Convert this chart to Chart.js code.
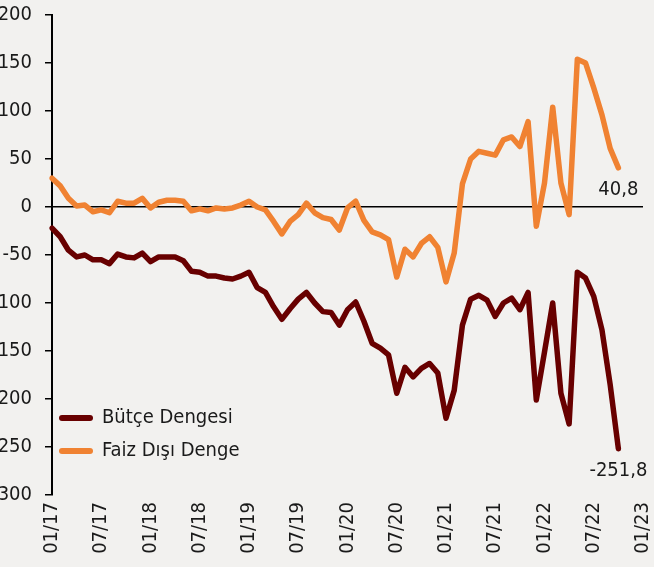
<!DOCTYPE html>
<html>
<head>
<meta charset="utf-8">
<script src="https://cdn.jsdelivr.net/npm/chart.js@4"></script>
<style>
  body { margin: 0; background: #f2f1ef; }
  canvas { display: block; background: #f2f1ef; }
</style>
</head>
<body>
<canvas id="dengeChart" width="654" height="567"></canvas>
<script>
let ctx = document.getElementById('dengeChart');

// monthly labels 01/17 .. 01/23, only every 6th one is shown
let months = [];
for (let y = 17; y <= 23; y++) {
    for (let m = 1; m <= 12; m++) {
        if (y === 23 && m > 1) break;
        months.push(String(m).padStart(2, '0') + '/' + y);
    }
}
let tickLabels = ['01/17', '07/17', '01/18', '07/18', '01/19', '07/19', '01/20',
    '07/20', '01/21', '07/21', '01/22', '07/22', '01/23'];
let yTicks = [200, 150, 100, 50, 0, -50, -100, -150, -200, -250, -300];

let butceDengesi = [-22, -31, -45, -52, -50, -55, -55, -59, -49, -52, -53, -48,
    -57, -52, -52, -52, -56, -67, -68, -72, -72, -74, -75, -72,
    -68, -84, -89, -104, -117, -106, -96, -89, -100, -109, -110, -123,
    -107, -99, -119, -142, -147, -154, -194, -167, -177, -168, -163, -173,
    -220, -191, -123, -96, -92, -97, -114, -100, -95, -107, -89, -201,
    -151, -100, -194, -226, -68, -74, -93, -128, -185, -251.8];

let faizDisiDenge = [30, 22, 9, 1, 2, -5, -3, -6, 6, 4, 4, 9,
    -1, 5, 7, 7, 6, -4, -2, -4, -1, -2, -1, 2,
    6, 0, -3, -15, -28, -15, -8, 4, -6, -11, -13, -24,
    -1, 6, -14, -26, -29, -34, -73, -44, -52, -38, -31, -42,
    -78, -48, 24, 50, 58, 56, 54, 70, 73, 63, 89, -20,
    25, 104, 25, -8, 154, 150, 124, 96, 61, 40.8];

let fontFamily = '"DejaVu Sans Condensed", "DejaVu Sans", sans-serif';
Chart.defaults.font.family = fontFamily;
Chart.defaults.font.size = 20;
Chart.defaults.color = '#1a1a1a';

// legend drawn inside the plot, lower left
let innerLegend = {
    id: 'innerLegend',
    afterDraw(chart) {
        let c = chart.ctx;
        let area = chart.chartArea;
        c.save();
        c.font = '20px ' + fontFamily;
        c.textBaseline = 'middle';
        chart.data.datasets.forEach((ds, i) => {
            let y = area.bottom - 77 + i * 33;
            c.strokeStyle = ds.borderColor;
            c.lineWidth = 6;
            c.lineCap = 'round';
            c.beginPath();
            c.moveTo(area.left + 10, y);
            c.lineTo(area.left + 38, y);
            c.stroke();
            c.fillStyle = '#1a1a1a';
            c.fillText(ds.label, area.left + 50, y);
        });
        c.restore();
    }
};

// value of the last point under each line
let lastValues = {
    id: 'lastValues',
    afterDatasetsDraw(chart) {
        let c = chart.ctx;
        c.save();
        c.font = '20px ' + fontFamily;
        c.fillStyle = '#1a1a1a';
        c.textAlign = 'center';
        c.textBaseline = 'middle';
        chart.data.datasets.forEach((ds, i) => {
            let pts = chart.getDatasetMeta(i).data;
            let last = pts[ds.data.length - 1];
            let txt = ds.data[ds.data.length - 1].toFixed(1).replace('.', ',');
            c.fillText(txt, last.x, last.y + 22);
        });
        c.restore();
    }
};

let dengeChart = new Chart(ctx, {
    type: 'line',
    data: {
        labels: months,
        datasets: [
            {
                label: 'Bütçe Dengesi',
                data: butceDengesi,
                borderColor: '#680000',
                backgroundColor: '#680000',
                borderWidth: 5.5,
                pointRadius: 0,
                tension: 0,
                borderJoinStyle: 'round',
                borderCapStyle: 'round',
                fill: false
            },
            {
                label: 'Faiz Dışı Denge',
                data: faizDisiDenge,
                borderColor: '#f08232',
                backgroundColor: '#f08232',
                borderWidth: 5.5,
                pointRadius: 0,
                tension: 0,
                borderJoinStyle: 'round',
                borderCapStyle: 'round',
                fill: false
            }
        ]
    },
    options: {
        responsive: false,
        animation: false,
        layout: { padding: { top: 15, right: 11, left: 0, bottom: 0 } },
        plugins: {
            legend: { display: false },
            tooltip: { enabled: false }
        },
        scales: {
            x: {
                grid: { display: false, drawTicks: false },
                border: { display: false },
                afterFit: s => {
                    s.height = 72;
                    s.paddingLeft = 0;
                    s.paddingRight = 0;
                },
                ticks: {
                    autoSkip: false,
                    maxRotation: 90,
                    minRotation: 90,
                    padding: 7,
                    callback: function (v, i) {
                        let lab = this.getLabelForValue(v);
                        return tickLabels.includes(lab) && i % 6 === 0 ? lab : null;
                    }
                }
            },
            y: {
                min: -300,
                max: 200,
                afterFit: s => {
                    s.width = 52;
                    s.paddingTop = 0;
                    s.paddingBottom = 0;
                },
                afterBuildTicks: s => { s.ticks = yTicks.map(v => ({ value: v })); },
                border: { display: true, color: '#000', width: 2 },
                grid: {
                    drawTicks: true,
                    tickLength: 7,
                    tickColor: '#000',
                    tickWidth: 1.5,
                    color: c => c.tick && c.tick.value === 0 ? '#000' : 'rgba(0,0,0,0)',
                    lineWidth: 1.5
                },
                ticks: {
                    padding: 13,
                    callback: v => String(v)
                }
            }
        }
    },
    plugins: [innerLegend, lastValues]
});
</script>
</body>
</html>
